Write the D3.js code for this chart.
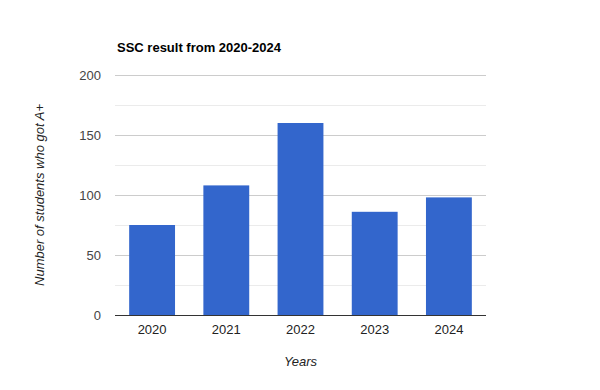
<!DOCTYPE html>
<html>
<head>
<meta charset="utf-8">
<script src="https://cdn.jsdelivr.net/npm/d3@7"></script>
<style>
  body { margin: 0; background: #fff; }
  svg text { font-family: "Liberation Sans", Arial, sans-serif; }
</style>
</head>
<body>
<div id="chart"></div>
<script>
"use strict"

// data
const years = ["2020", "2021", "2022", "2023", "2024"];
const students = [75, 108, 160, 86, 98];
const yTicks = [0, 50, 100, 150, 200];
const yMinorTicks = [25, 75, 125, 175];

const totalWidth = 600, totalHeight = 390;
const margin = { left: 115, right: 114, top: 75, bottom: 75 };
const width = totalWidth - margin.left - margin.right;
const height = totalHeight - margin.top - margin.bottom;

const svg = d3.select("#chart").append("svg")
	.attr("width", totalWidth)
	.attr("height", totalHeight);

const g = svg.append("g")
	.attr("transform", `translate(${margin.left},${margin.top})`);

const xScale = d3.scaleBand()
	.domain(years)
	.range([0, width])
	.paddingInner(0.382)
	.paddingOuter(0.191);

const yScale = d3.scaleLinear()
	.domain([0, 200])
	.range([height, 0]);

// minor gridlines
g.append("g").selectAll("line")
	.data(yMinorTicks)
	.enter().append("line")
		.attr("x1", 0)
		.attr("x2", width)
		.attr("y1", d => Math.round(yScale(d)) + 0.5)
		.attr("y2", d => Math.round(yScale(d)) + 0.5)
		.attr("stroke", "#ebebeb");

// major gridlines
g.append("g").selectAll("line")
	.data(yTicks.slice(1))
	.enter().append("line")
		.attr("x1", 0)
		.attr("x2", width)
		.attr("y1", d => Math.round(yScale(d)) + 0.5)
		.attr("y2", d => Math.round(yScale(d)) + 0.5)
		.attr("stroke", "#cccccc");

// bars
g.append("g").selectAll("rect")
	.data(years.map((y, i) => ({ year: y, value: students[i] })))
	.enter().append("rect")
		.attr("x", d => xScale(d.year))
		.attr("y", d => yScale(d.value))
		.attr("width", xScale.bandwidth())
		.attr("height", d => height - yScale(d.value))
		.attr("fill", "#3366cc");

// baseline
g.append("line")
	.attr("x1", 0)
	.attr("x2", width)
	.attr("y1", height + 0.5)
	.attr("y2", height + 0.5)
	.attr("stroke", "#333333");

// y tick labels
g.append("g").selectAll("text")
	.data(yTicks)
	.enter().append("text")
		.attr("x", -14)
		.attr("y", d => yScale(d))
		.attr("dy", "0.36em")
		.attr("text-anchor", "end")
		.attr("font-size", 13)
		.attr("fill", "#444444")
		.text(d => d);

// x tick labels
g.append("g").selectAll("text")
	.data(years)
	.enter().append("text")
		.attr("x", d => xScale(d) + xScale.bandwidth() / 2)
		.attr("y", height + 19)
		.attr("text-anchor", "middle")
		.attr("font-size", 13)
		.attr("fill", "#222222")
		.text(d => d);

// title
svg.append("text")
	.attr("x", 117)
	.attr("y", 52)
	.attr("font-size", 13)
	.attr("font-weight", "bold")
	.attr("fill", "#000000")
	.text("SSC result from 2020-2024");

// axis titles
svg.append("text")
	.attr("x", margin.left + width / 2)
	.attr("y", 366)
	.attr("text-anchor", "middle")
	.attr("font-size", 13)
	.attr("font-style", "italic")
	.attr("fill", "#222222")
	.text("Years");

svg.append("text")
	.attr("transform", `translate(44,${margin.top + height / 2}) rotate(-90)`)
	.attr("text-anchor", "middle")
	.attr("font-size", 13)
	.attr("font-style", "italic")
	.attr("fill", "#222222")
	.text("Number of students who got A+");
</script>
</body>
</html>
